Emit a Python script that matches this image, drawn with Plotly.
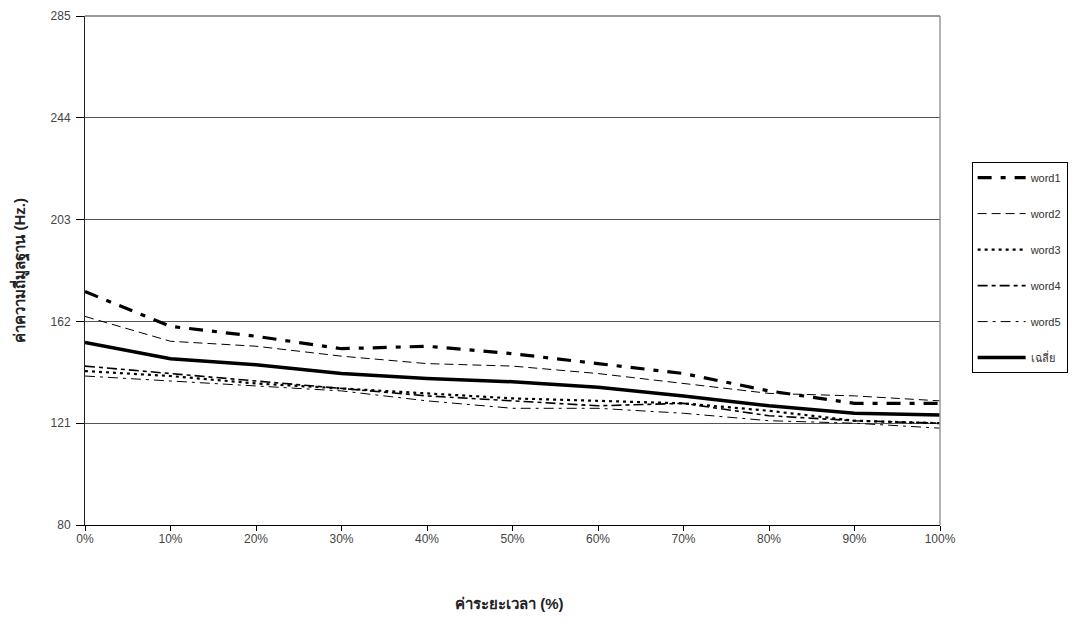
import plotly.graph_objects as go

x_pct = [0, 10, 20, 30, 40, 50, 60, 70, 80, 90, 100]
x_labels = ["0%", "10%", "20%", "30%", "40%", "50%", "60%", "70%", "80%", "90%", "100%"]

word1 = [174, 160, 156, 151, 152, 149, 145, 141, 134, 129, 129]
word2 = [164, 154, 152, 148, 145, 144, 141, 137, 133, 132, 130]
word3 = [142, 140, 137, 135, 133, 131, 130, 129, 126, 122, 121]
word4 = [144, 141, 138, 135, 132, 130, 128, 129, 124, 122, 121]
word5 = [140, 138, 136, 134, 130, 127, 127, 125, 122, 121, 119]
avg = [153.5, 147, 144.5, 141, 139, 137.7, 135.5, 132, 128, 125, 124.3]

y_ticks = [80, 121, 162, 203, 244, 285]

series = [
    ("word1", word1, dict(color="black", width=3.2, dash="14px,9px,5px,9px")),
    ("word2", word2, dict(color="black", width=1, dash="9px,5px")),
    ("word3", word3, dict(color="black", width=2.2, dash="3px,4px")),
    ("word4", word4, dict(color="black", width=1.6, dash="10px,4px,4px,4px")),
    ("word5", word5, dict(color="black", width=1, dash="10px,5px,3px,5px")),
    ("เฉลี่ย", avg, dict(color="black", width=3.5)),
]

FONT = "Liberation Sans, Arial, Noto Sans, DejaVu Sans, sans-serif"

fig = go.Figure()
for i, (name, vals, line) in enumerate(series):
    fig.add_trace(go.Scatter(x=x_pct, y=vals, mode="lines", name=name, line=line,
                             legendgroup=f"g{i}"))

fig.update_layout(
    width=1073, height=616,
    paper_bgcolor="white", plot_bgcolor="white",
    margin=dict(l=77, r=141, t=8, b=99, autoexpand=False),
    font=dict(family=FONT, size=12, color="#333333"),
    showlegend=True,
    legend=dict(
        x=1.037, y=0.713, xanchor="left", yanchor="top",
        bordercolor="black", borderwidth=1, bgcolor="white",
        font=dict(family=FONT, size=11, color="#333333"),
        itemwidth=48, tracegroupgap=17, traceorder="grouped",
    ),
    xaxis=dict(
        range=[0, 100], tickmode="array", tickvals=x_pct, ticktext=x_labels,
        showgrid=False, zeroline=False, showline=True, linecolor="black", linewidth=1.2,
        ticks="outside", ticklen=5, tickcolor="black", automargin=False,
        ticklabelstandoff=-3,
        tickfont=dict(size=12, color="#444444"),
    ),
    yaxis=dict(
        range=[80, 285], tickmode="array", tickvals=y_ticks,
        showgrid=True, gridcolor="#555555", gridwidth=1, zeroline=False,
        showline=True, linecolor="#222222", linewidth=1,
        ticks="outside", ticklen=8, tickcolor="black", automargin=False,
        ticklabelstandoff=3,
        tickfont=dict(size=12, color="#444444"),
    ),
    annotations=[
        dict(text="<b>ค่าระยะเวลา (%)</b>", xref="paper", yref="paper", x=0.497, y=-0.155,
             xanchor="center", yanchor="middle", showarrow=False,
             font=dict(size=15, color="#222222", family=FONT)),
        dict(text="<b>ค่าความถี่มูลฐาน (Hz.)</b>", xref="paper", yref="paper", x=-0.077, y=0.5,
             xanchor="center", yanchor="middle", showarrow=False, textangle=-90,
             font=dict(size=15, color="#222222", family=FONT)),
    ],
)

# right and top border of plot area
fig.add_shape(type="line", xref="paper", yref="paper", x0=1, x1=1, y0=0, y1=1,
              line=dict(color="#999999", width=1.5))
fig.add_shape(type="line", xref="paper", yref="paper", x0=0, x1=1, y0=1, y1=1,
              line=dict(color="#777777", width=1.5))

fig.write_html("out.html")
